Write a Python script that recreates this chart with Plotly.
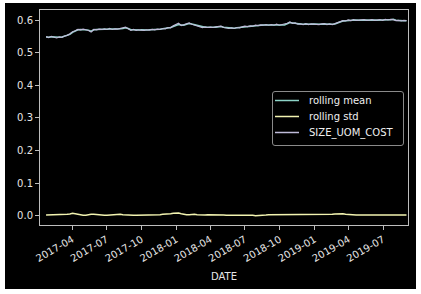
import pandas as pd
import plotly.graph_objects as go

rolling_mean = [
    0.548,0.547,0.549,0.548,0.546,0.547,0.548,0.550,0.552,0.556,
    0.562,0.566,0.570,0.571,0.570,0.571,0.569,0.566,0.570,0.571,
    0.571,0.572,0.572,0.572,0.573,0.572,0.572,0.573,0.573,0.574,
    0.576,0.574,0.570,0.570,0.569,0.569,0.570,0.569,0.569,0.570,
    0.570,0.571,0.571,0.572,0.573,0.574,0.575,0.577,0.580,0.583,
    0.586,0.585,0.584,0.587,0.589,0.588,0.586,0.583,0.580,0.578,
    0.578,0.578,0.577,0.578,0.578,0.579,0.580,0.578,0.577,0.575,
    0.575,0.575,0.576,0.577,0.578,0.580,0.581,0.581,0.582,0.583,
    0.584,0.584,0.585,0.585,0.585,0.585,0.585,0.586,0.585,0.585,
    0.585,0.588,0.592,0.591,0.590,0.588,0.587,0.587,0.588,0.587,
    0.587,0.588,0.587,0.587,0.587,0.588,0.587,0.587,0.587,0.588,
    0.590,0.594,0.597,0.598,0.599,0.599,0.600,0.600,0.599,0.600,
    0.600,0.600,0.599,0.600,0.600,0.599,0.600,0.600,0.600,0.601,
    0.601,0.602,0.599,0.598,0.598,0.598,0.598,
]

size_uom_cost = [
    0.549,0.546,0.550,0.547,0.545,0.548,0.547,0.551,0.553,0.558,
    0.564,0.567,0.571,0.570,0.572,0.570,0.568,0.563,0.571,0.570,
    0.572,0.571,0.573,0.571,0.574,0.571,0.573,0.572,0.574,0.575,
    0.578,0.573,0.568,0.571,0.568,0.570,0.569,0.568,0.570,0.569,
    0.571,0.570,0.572,0.571,0.574,0.573,0.577,0.576,0.582,0.585,
    0.590,0.583,0.586,0.588,0.591,0.587,0.585,0.582,0.579,0.577,
    0.579,0.577,0.578,0.577,0.579,0.580,0.581,0.577,0.576,0.574,
    0.576,0.574,0.577,0.576,0.579,0.581,0.580,0.582,0.581,0.584,
    0.583,0.585,0.584,0.586,0.584,0.586,0.584,0.587,0.584,0.586,
    0.586,0.590,0.594,0.590,0.591,0.587,0.588,0.586,0.589,0.586,
    0.588,0.587,0.588,0.586,0.588,0.589,0.586,0.588,0.586,0.589,
    0.592,0.596,0.598,0.597,0.600,0.598,0.601,0.599,0.600,0.599,
    0.601,0.599,0.600,0.601,0.599,0.600,0.601,0.599,0.602,0.600,
    0.602,0.601,0.598,0.599,0.597,0.599,0.598,
]

rolling_std = [
    0.003,0.003,0.003,0.003,0.003,0.003,0.004,0.004,0.005,0.006,
    0.008,0.007,0.005,0.003,0.002,0.002,0.004,0.005,0.005,0.004,
    0.002,0.002,0.002,0.002,0.003,0.003,0.004,0.005,0.005,0.004,
    0.003,0.002,0.002,0.002,0.002,0.002,0.003,0.003,0.003,0.003,
    0.003,0.004,0.004,0.004,0.005,0.005,0.006,0.007,0.008,0.009,
    0.009,0.007,0.005,0.004,0.004,0.005,0.005,0.004,0.003,0.003,
    0.003,0.004,0.004,0.005,0.005,0.004,0.003,0.003,0.002,0.002,
    0.003,0.003,0.003,0.004,0.004,0.003,0.002,0.002,0.002,0.001,
    0.001,0.001,0.001,0.003,0.004,0.004,0.004,0.003,0.003,0.003,
    0.003,0.003,0.003,0.004,0.004,0.004,0.003,0.003,0.003,0.003,
    0.003,0.003,0.004,0.004,0.004,0.003,0.003,0.004,0.005,0.006,
    0.007,0.008,0.007,0.005,0.004,0.004,0.003,0.003,0.003,0.003,
    0.003,0.003,0.003,0.004,0.004,0.004,0.004,0.004,0.003,0.003,
    0.003,0.003,0.003,0.003,0.003,0.003,0.003,
]

dates = pd.date_range("2017-01-22", periods=len(rolling_mean), freq="7D")

x_ticks = ["2017-04-01", "2017-07-01", "2017-10-01", "2018-01-01", "2018-04-01",
           "2018-07-01", "2018-10-01", "2019-01-01", "2019-04-01", "2019-07-01"]
x_tick_labels = ["2017-04", "2017-07", "2017-10", "2018-01", "2018-04",
                 "2018-07", "2018-10", "2019-01", "2019-04", "2019-07"]
y_ticks = [0.0, 0.1, 0.2, 0.3, 0.4, 0.5, 0.6]

series_names = ["rolling mean", "rolling std", "SIZE_UOM_COST"]
series_colors = ["#8dd3c7", "#f2f3b0", "#bfbbd9"]

FONT = "DejaVu Sans"
TXT = "#e6e6e6"
SPINE = "#bdbdbd"

L, R, T, B = 40, 408, 10, 225
W, H = 421, 294
pw, ph = R - L, B - T


def px_x(px):
    return (px - L) / pw


def px_y(py):
    return (B - py) / ph


fig = go.Figure()
for name, vals, col, w in zip(series_names, [rolling_mean, rolling_std, size_uom_cost],
                              series_colors, [1.5, 1.5, 1.2]):
    fig.add_trace(go.Scatter(x=dates, y=vals, mode="lines", name=name,
                             line=dict(color=col, width=w), showlegend=False))

# outer black figure area with thin white margin
fig.add_shape(type="rect", xref="paper", yref="paper",
              x0=px_x(5), x1=px_x(416), y0=px_y(289), y1=px_y(3),
              fillcolor="black", line=dict(width=0), layer="below")

# legend box (rounded corners)
x0, x1, y0, y1, r = 272.5, 403.5, 91.5, 145.5, 2.5
path = (f"M {px_x(x0 + r)},{px_y(y0)} L {px_x(x1 - r)},{px_y(y0)} "
        f"Q {px_x(x1)},{px_y(y0)} {px_x(x1)},{px_y(y0 + r)} "
        f"L {px_x(x1)},{px_y(y1 - r)} Q {px_x(x1)},{px_y(y1)} {px_x(x1 - r)},{px_y(y1)} "
        f"L {px_x(x0 + r)},{px_y(y1)} Q {px_x(x0)},{px_y(y1)} {px_x(x0)},{px_y(y1 - r)} "
        f"L {px_x(x0)},{px_y(y0 + r)} Q {px_x(x0)},{px_y(y0)} {px_x(x0 + r)},{px_y(y0)} Z")
fig.add_shape(type="path", xref="paper", yref="paper", path=path,
              fillcolor="black", line=dict(color="#8a8a8a", width=1), layer="above")

rows_y = [100.5, 116.5, 132.5]
for name, col, ry in zip(series_names, series_colors, rows_y):
    fig.add_shape(type="line", xref="paper", yref="paper",
                  x0=px_x(275), x1=px_x(299), y0=px_y(ry), y1=px_y(ry),
                  line=dict(color=col, width=1.5), layer="above")
    fig.add_annotation(xref="paper", yref="paper", x=px_x(307), y=px_y(ry),
                       text=name, showarrow=False, xanchor="left", yanchor="middle",
                       font=dict(family=FONT, size=10, color="#f0f0f0"))

fig.update_layout(
    width=W, height=H,
    margin=dict(l=L, r=W - R, t=T, b=H - B, autoexpand=False),
    paper_bgcolor="white", plot_bgcolor="black",
    font=dict(family=FONT, size=10, color=TXT),
    showlegend=False,
    xaxis=dict(range=["2017-01-06", "2019-09-05"], tickvals=x_ticks, ticktext=x_tick_labels,
               tickangle=-30, ticks="outside", ticklen=4, tickcolor=SPINE,
               showline=True, linecolor=SPINE, linewidth=1, mirror=True,
               showgrid=False, zeroline=False,
               tickfont=dict(family=FONT, size=10, color=TXT),
               title=dict(text="DATE", font=dict(family=FONT, size=10, color=TXT), standoff=10)),
    yaxis=dict(range=[-0.0276, 0.6306], tickvals=y_ticks, tickformat=".1f",
               ticks="outside", ticklen=4, tickcolor=SPINE,
               showline=True, linecolor=SPINE, linewidth=1, mirror=True,
               showgrid=False, zeroline=False,
               tickfont=dict(family=FONT, size=10, color=TXT)),
)

fig.write_html("out.html")
